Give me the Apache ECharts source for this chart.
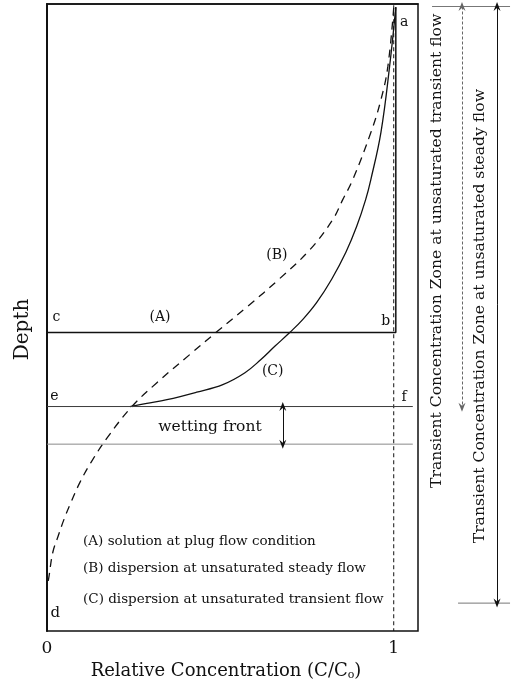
<!DOCTYPE html>
<html>
<head>
<meta charset="utf-8">
<script src="https://cdn.jsdelivr.net/npm/echarts@6/dist/echarts.min.js"></script>
<style>
html,body{margin:0;padding:0;background:#ffffff;}
#chart{width:522px;height:686px;}
</style>
</head>
<body>
<div id="chart"></div>
<script>
// ---------- DATA (relative concentration C/C0, depth in % of profile) ----------
// (B) dispersion at unsaturated steady flow (dashed)
const curveB = [
  [1.000, 0.6], [0.983, 10.0], [0.963, 15.3], [0.934, 20.5], [0.882, 28.0],
  [0.853, 31.2], [0.824, 34.4], [0.758, 39.2], [0.669, 43.9], [0.579, 48.2],
  [0.487, 52.4], [0.412, 55.9], [0.317, 60.4], [0.245, 64.2], [0.176, 69.0],
  [0.127, 73.1], [0.095, 76.3], [0.069, 79.5], [0.049, 82.2], [0.032, 84.9],
  [0.017, 87.4], [0.006, 91.2], [0.000, 93.3]
];
// (C) dispersion at unsaturated transient flow (solid)
const curveC = [
  [1.006, 0.5], [0.988, 10.0], [0.963, 20.5], [0.934, 28.0], [0.919, 31.2],
  [0.893, 35.5], [0.862, 39.6], [0.821, 43.9], [0.778, 47.6], [0.738, 50.3],
  [0.700, 52.4], [0.657, 54.6], [0.617, 56.7], [0.571, 58.8], [0.507, 60.7],
  [0.432, 61.9], [0.346, 63.1], [0.288, 63.7], [0.239, 64.2]
];
// (A) plug flow step profile: a -> b -> c
const plugFlow = [[1.006, 0.5], [1.006, 52.4], [0.000, 52.4]];
// C/C0 = 1 reference line
const unitConc = [[1.0, 0.2], [1.0, 100]];
// wetting front boundaries (depth)
const wettingTop = 64.2;
const wettingBottom = 70.2;
const wettingLineEnd = 1.055;
const wettingArrowC = 0.68;
// transient concentration zones (depth extents)
const zoneTop = 0.4;
const transientZoneEnd = 64.2;
const steadyZoneEnd = 95.4;
// axis ticks
const xTicks = [0, 1];

const FONT = 'DejaVu Serif';
const INK = '#111111';

const chart = echarts.init(document.getElementById('chart'), null, {renderer: 'canvas'});

function mkLabel(size, align, rotate) {
  return {
    show: true, formatter: '{b}', position: 'inside', rotate: rotate || 0,
    fontFamily: FONT, fontSize: size, color: INK, opacity: 1,
    align: align, verticalAlign: 'middle'
  };
}
function txt(name, x, y, size) { return {name: name, value: [x, y], label: mkLabel(size, 'center')}; }
function leftTxt(name, x, y, size) { return {name: name, value: [x, y], label: mkLabel(size, 'left')}; }
function rotTxt(name, x, y, size) { return {name: name, value: [x, y], label: mkLabel(size, 'center', 90)}; }

const arrowHead = 'path://M5,0 L10,12 L5,8 L0,12 Z';

const option = {
  animation: false,
  backgroundColor: '#ffffff',
  grid: [
    {left: 47, right: 104, top: 4, bottom: 54, show: true, borderColor: INK, borderWidth: 1.5, backgroundColor: 'transparent'},
    {left: 418, right: 0, top: 4, bottom: 54, show: false}
  ],
  xAxis: [
    {
      gridIndex: 0, type: 'value', min: 0, max: 1.07, interval: 1,
      name: 'Relative Concentration (C/C{s|o})',
      nameLocation: 'middle', nameGap: 31,
      nameTextStyle: {
        fontFamily: FONT, fontSize: 18, color: INK, padding: [0, 13, 0, 0],
        rich: {s: {fontFamily: FONT, fontSize: 11, color: INK, padding: [8, 0, 0, 0]}}
      },
      axisLine: {show: true, lineStyle: {color: INK, width: 1.5}},
      axisTick: {show: false},
      splitLine: {show: false},
      axisLabel: {
        show: true, margin: 9, fontFamily: FONT, fontSize: 17, color: INK,
        formatter: function (v) { return xTicks.indexOf(v) >= 0 ? String(v) : ''; }
      }
    },
    {gridIndex: 1, type: 'value', min: 0, max: 1, show: false}
  ],
  yAxis: [
    {
      gridIndex: 0, type: 'value', inverse: true, min: 0, max: 100,
      name: 'Depth', nameLocation: 'middle', nameRotate: 90, nameGap: 14,
      nameTextStyle: {fontFamily: FONT, fontSize: 20, color: INK, padding: [0, 24, 0, 0]},
      axisLine: {show: true, lineStyle: {color: INK, width: 2}},
      axisTick: {show: false}, axisLabel: {show: false}, splitLine: {show: false}
    },
    {gridIndex: 1, type: 'value', inverse: true, min: 0, max: 100, show: false}
  ],
  series: [
    {
      name: 'C/C0 = 1', type: 'line', xAxisIndex: 0, yAxisIndex: 0,
      data: unitConc, showSymbol: false, symbol: 'none',
      lineStyle: {color: INK, width: 1, type: [4, 3]}, silent: true
    },
    {
      name: '(B)', type: 'line', xAxisIndex: 0, yAxisIndex: 0,
      data: curveB, showSymbol: false, symbol: 'none', smooth: 0.4,
      lineStyle: {color: INK, width: 1.3, type: [8, 6]}, silent: true
    },
    {
      name: '(C)', type: 'line', xAxisIndex: 0, yAxisIndex: 0,
      data: curveC, showSymbol: false, symbol: 'none', smooth: 0.4,
      lineStyle: {color: INK, width: 1.3}, silent: true
    },
    {
      name: '(A)', type: 'line', xAxisIndex: 0, yAxisIndex: 0,
      data: plugFlow, showSymbol: false, symbol: 'none',
      lineStyle: {color: INK, width: 1.5}, silent: true
    },
    {
      name: 'e-f', type: 'line', xAxisIndex: 0, yAxisIndex: 0,
      data: [[0, wettingTop], [wettingLineEnd, wettingTop]], showSymbol: false, symbol: 'none',
      lineStyle: {color: '#3a3a3a', width: 1}, silent: true
    },
    {
      name: 'wetting bottom', type: 'line', xAxisIndex: 0, yAxisIndex: 0,
      data: [[0, wettingBottom], [wettingLineEnd, wettingBottom]], showSymbol: false, symbol: 'none',
      lineStyle: {color: '#8a8a8a', width: 1}, silent: true
    },
    {
      name: 'wetting arrow', type: 'line', xAxisIndex: 0, yAxisIndex: 0, data: [],
      markLine: {
        silent: true, animation: false,
        symbol: [arrowHead, arrowHead], symbolSize: [7, 9],
        label: {show: false},
        lineStyle: {color: INK, width: 1, type: 'solid'},
        emphasis: {disabled: true},
        data: [[{coord: [wettingArrowC, wettingTop]}, {coord: [wettingArrowC, wettingBottom]}]]
      }
    },
    {
      name: 'labels', type: 'scatter', xAxisIndex: 0, yAxisIndex: 0,
      symbolSize: 0.01, silent: true, clip: false,
      itemStyle: {opacity: 1},
      data: [
        txt('a', 1.030, 2.9, 14),
        txt('b', 0.977, 50.6, 14),
        txt('c', 0.027, 50.0, 14),
        txt('d', 0.024, 97.1, 15),
        txt('e', 0.021, 62.6, 14),
        txt('f', 1.030, 62.7, 14),
        txt('(A)', 0.326, 50.0, 14),
        txt('(B)', 0.663, 40.1, 14),
        txt('(C)', 0.651, 58.6, 14),
        txt('wetting front', 0.470, 67.5, 15.5),
        leftTxt('(A) solution at plug flow condition', 0.104, 85.7, 13.5),
        leftTxt('(B) dispersion at unsaturated steady flow', 0.104, 90.1, 13.5),
        leftTxt('(C) dispersion at unsaturated transient flow', 0.104, 94.9, 13.5)
      ]
    },
    {
      name: 'zone top', type: 'line', xAxisIndex: 1, yAxisIndex: 1,
      data: [[0.135, zoneTop], [0.885, zoneTop]], showSymbol: false, symbol: 'none',
      lineStyle: {color: '#777777', width: 1}, silent: true
    },
    {
      name: 'zone bottom', type: 'line', xAxisIndex: 1, yAxisIndex: 1,
      data: [[0.385, steadyZoneEnd], [0.885, steadyZoneEnd]], showSymbol: false, symbol: 'none',
      lineStyle: {color: '#777777', width: 1}, silent: true
    },
    {
      name: 'transient zone arrow', type: 'line', xAxisIndex: 1, yAxisIndex: 1, data: [],
      markLine: {
        silent: true, animation: false,
        symbol: [arrowHead, arrowHead], symbolSize: [7, 9],
        label: {show: false},
        lineStyle: {color: '#666666', width: 1, type: [3, 2]},
        emphasis: {disabled: true},
        data: [[{coord: [0.423, zoneTop]}, {coord: [0.423, transientZoneEnd]}]]
      }
    },
    {
      name: 'steady zone arrow', type: 'line', xAxisIndex: 1, yAxisIndex: 1, data: [],
      markLine: {
        silent: true, animation: false,
        symbol: [arrowHead, arrowHead], symbolSize: [7, 9],
        label: {show: false},
        lineStyle: {color: INK, width: 1, type: 'solid'},
        emphasis: {disabled: true},
        data: [[{coord: [0.76, zoneTop]}, {coord: [0.76, steadyZoneEnd]}]]
      }
    },
    {
      name: 'zone labels', type: 'scatter', xAxisIndex: 1, yAxisIndex: 1,
      symbolSize: 0.01, silent: true, clip: false,
      itemStyle: {opacity: 1},
      data: [
        rotTxt('Transient Concentration Zone at unsaturated transient flow', 0.183, 39.3, 15.6),
        rotTxt('Transient Concentration Zone at unsaturated steady flow', 0.596, 49.7, 15.6)
      ]
    }
  ]
};
chart.setOption(option);
</script>
</body>
</html>
